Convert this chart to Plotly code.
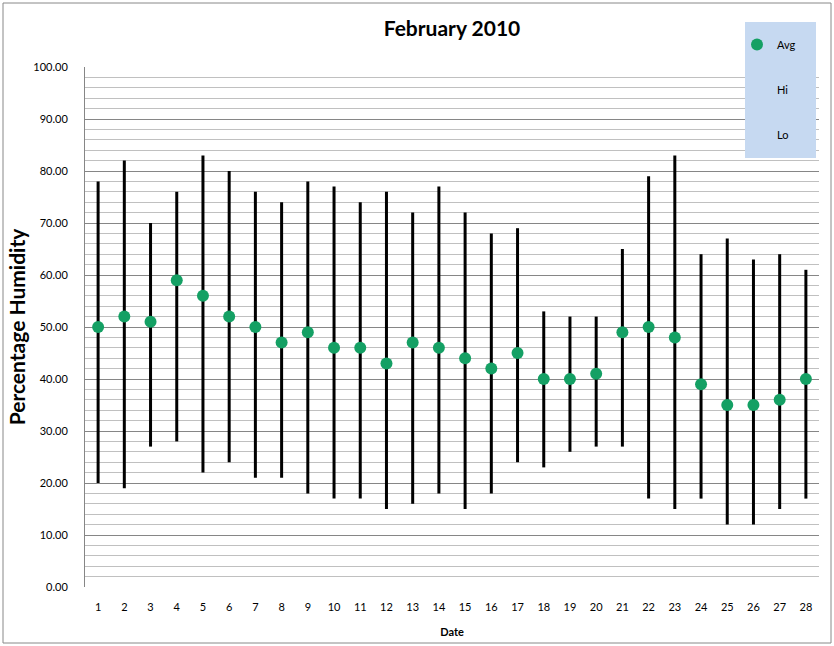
import plotly.graph_objects as go

dates = list(range(1, 29))
avg = [50, 52, 51, 59, 56, 52, 50, 47, 49, 46, 46, 43, 47, 46, 44, 42, 45, 40, 40, 41, 49, 50, 48, 39, 35, 35, 36, 40]
hi = [78, 82, 70, 76, 83, 80, 76, 74, 78, 77, 74, 76, 72, 77, 72, 68, 69, 53, 52, 52, 65, 79, 83, 64, 67, 63, 64, 61]
lo = [20, 19, 27, 28, 22, 24, 21, 21, 18, 17, 17, 15, 16, 18, 15, 18, 24, 23, 26, 27, 27, 17, 15, 17, 12, 12, 15, 17]

FONT = "Lato"
GREEN = "#14A064"

# high-low lines built from the data
lx, ly = [], []
for d, h, l in zip(dates, hi, lo):
    lx += [d, d, None]
    ly += [l, h, None]

fig = go.Figure()
fig.add_trace(go.Scatter(x=lx, y=ly, mode="lines", line=dict(color="black", width=3),
                         showlegend=False, hoverinfo="skip"))
fig.add_trace(go.Scatter(x=dates, y=avg, mode="markers", name="Avg", legendgroup="a",
                         marker=dict(color=GREEN, size=12)))
fig.add_trace(go.Scatter(x=dates, y=hi, mode="markers", name="Hi", legendgroup="b",
                         marker=dict(color="rgba(0,0,0,0)", size=1)))
fig.add_trace(go.Scatter(x=dates, y=lo, mode="markers", name="Lo", legendgroup="c",
                         marker=dict(color="rgba(0,0,0,0)", size=1)))

L, R, T, B = 85, 819, 67, 587
W, H = 834, 646
pw, ph = R - L, B - T

def px(x):
    return (x - L) / pw

def py(y):
    return (B - y) / ph

fig.update_layout(
    width=W, height=H,
    margin=dict(l=L, r=W - R, t=T, b=H - B, pad=0, autoexpand=False),
    paper_bgcolor="white", plot_bgcolor="white",
    font=dict(family=FONT, size=11, color="black"),
    title=dict(text="<b>February 2010</b>", x=0.5, xanchor="center", xref="paper",
               y=1 - 29 / H, yanchor="middle", automargin=False,
               font=dict(size=21, family=FONT, color="black")),
    xaxis=dict(range=[0.5, 28.5], tickmode="array", tickvals=dates, ticktext=[str(d) for d in dates],
               showgrid=False, zeroline=False, showline=False, ticks="", automargin=True,
               ticklabelstandoff=12, tickfont=dict(size=11),
               title=dict(text="<b>Date</b>", font=dict(size=11), standoff=16)),
    yaxis=dict(range=[0, 100], dtick=10, tick0=0, tickformat=".2f", automargin=True,
               showgrid=True, gridcolor="#868686", gridwidth=1,
               minor=dict(dtick=2, showgrid=True, gridcolor="#C0C0C0", gridwidth=1),
               showline=True, linecolor="#868686", linewidth=1,
               zeroline=False, ticks="", ticklabelstandoff=14, tickfont=dict(size=11),
               title=dict(text="<b>Percentage Humidity</b>", font=dict(size=21), standoff=1)),
    legend=dict(x=px(737), y=py(30), xanchor="left", yanchor="top",
                bgcolor="rgba(0,0,0,0)", borderwidth=0, traceorder="grouped",
                tracegroupgap=26, font=dict(size=11)),
    shapes=[
        dict(type="rect", xref="paper", yref="paper", x0=px(745), x1=px(816), y0=py(158), y1=py(22),
             fillcolor="#C6D9F1", line=dict(width=0), layer="above"),
        dict(type="rect", xref="paper", yref="paper", x0=px(3), x1=px(831), y0=py(643), y1=py(3),
             fillcolor="rgba(0,0,0,0)", line=dict(color="#888888", width=1), layer="above"),
    ],
)

fig.write_html("out.html", config={"displayModeBar": False},
               post_script="document.body.style.margin='0px';document.body.style.padding='0px';")
